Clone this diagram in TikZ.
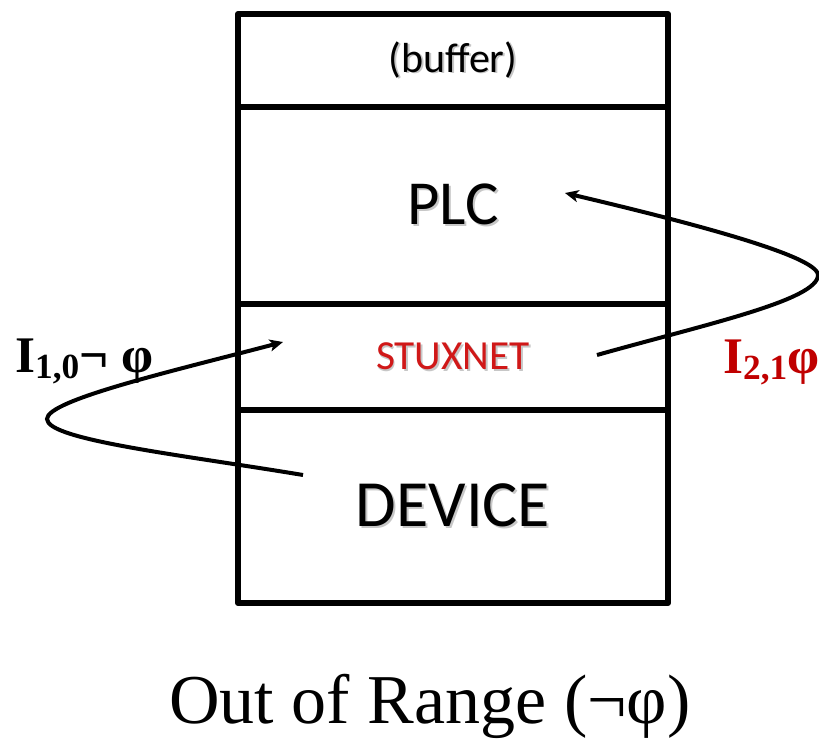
\documentclass[tikz,border=0pt]{standalone}
\usepackage{fontspec}
\setmainfont{Liberation Serif}
\newfontfamily\calib{Carlito}
\usetikzlibrary{arrows.meta}
\definecolor{stuxred}{RGB}{208,24,24}
\definecolor{labred}{RGB}{192,0,0}
% text with a soft drop shadow behind it
\newcommand\shtext[1]{\leavevmode\rlap{\kern1.3pt\raisebox{-1.3pt}{\color{black!22}#1}}#1}
\begin{document}
\begin{tikzpicture}[x=0.75pt,y=-0.75pt,
  layer/.style={draw=black, line width=4.5pt, line join=round,
    minimum width=322.5pt, inner sep=0pt, outer sep=0pt, font=\calib},
  flow/.style={line width=3pt, -{Stealth[length=10pt,width=9pt,inset=2.5pt]}},
  lbl/.style={anchor=base west, inner sep=0pt, font=\bfseries\fontsize{38.5}{38.5}\selectfont}]
\useasboundingbox (0,0) rectangle (819,740);

% stack of layers
\node[layer, minimum height=69.75pt, font=\calib\fontsize{31.5}{34}\selectfont] (buffer) at (453,60.5) {\shtext{(buffer)}};
\node[layer, minimum height=147.75pt, font=\calib\fontsize{47}{50}\selectfont] (plc) at (453,205.5) {\shtext{PLC}};
\node[layer, minimum height=79.5pt, text=stuxred, font=\calib\fontsize{31}{34}\selectfont] (stux) at (453,357) {\shtext{STUXNET}};
\node[layer, minimum height=144.75pt, font=\calib\fontsize{49.5}{52}\selectfont] (device) at (453,506.5) {\shtext{DEVICE}};

% end points of the two loops
\coordinate (devout) at (303,475);
\coordinate (stuxin) at (283,342);
\coordinate (stuxout) at (597,355);
\coordinate (plcin) at (565,193);

% device -> stuxnet, looping round on the left
\draw[flow] (devout) .. controls (183,455) and (47,440) .. (47,419)
            .. controls (47,400) and (173,371) .. (stuxin);
% stuxnet -> plc, looping round on the right
\draw[flow] (stuxout) .. controls (707,324) and (818,300) .. (818,275)
            .. controls (818,255) and (675,219) .. (plcin);

% interaction labels
\node[lbl] (i10) at (15,372) {I\lower.12em\hbox{\fontsize{26.5}{26.5}\selectfont 1,0}¬ φ};
\node[lbl, text=labred] (i21) at (723,373) {I\lower.12em\hbox{\fontsize{26.5}{26.5}\selectfont 2,1}φ};

% caption
\node[anchor=base, inner sep=0pt, font=\fontsize{52.5}{60}\selectfont] (caption) at (430,723) {Out of Range (¬φ)};
\end{tikzpicture}
\end{document}
